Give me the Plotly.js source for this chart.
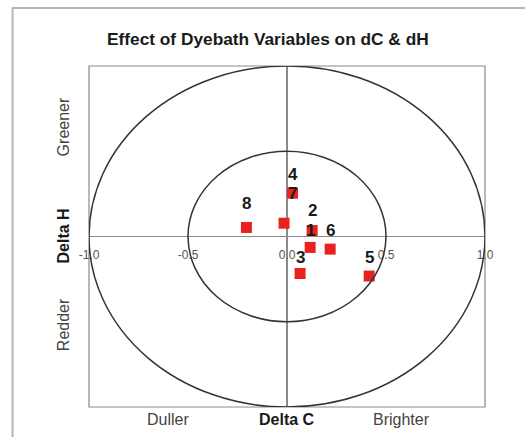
<!DOCTYPE html>
<html>
<head>
<meta charset="utf-8">
<script src="https://cdn.plot.ly/plotly-3.0.1.min.js"></script>
<style>
  html, body { margin: 0; padding: 0; background: #fff; }
  #chart { width: 525px; height: 437px; }
</style>
</head>
<body>
<div id="chart"></div>
<script>
// Data
const labels = ["1", "2", "3", "4", "5", "6", "7", "8"];
const deltaC = [0.117, 0.127, 0.066, 0.028, 0.415, 0.218, -0.015, -0.205];
const deltaH = [-0.064, 0.035, -0.217, 0.254, -0.232, -0.074, 0.078, 0.053];
const tickVals = [-1.0, -0.5, 0.0, 0.5, 1.0];
const tickText = ["-1.0", "-0.5", "0.0", "0.5", "1.0"];
const circleRadii = [1.0, 0.5];

// Label pixel offsets (styling only)
const labelShiftX = [0, 0, 0, 0, 0, 0, 8, 0];
const labelShiftY = [17, 20, 16, 19, 19, 19, 30, 24];

const FONT = "Liberation Sans, Arial, sans-serif";

const trace = {
  type: "scatter",
  mode: "markers",
  x: deltaC,
  y: deltaH,
  marker: { symbol: "square", size: 11, color: "#e8231f" },
  hoverinfo: "skip",
  showlegend: false
};

const annotations = labels.map((t, i) => ({
  x: deltaC[i], y: deltaH[i], xref: "x", yref: "y",
  text: "<b>" + t + "</b>", showarrow: false,
  xshift: labelShiftX[i], yshift: labelShiftY[i],
  font: { family: FONT, size: 17, color: "#1a1a1a" }
}));

annotations.push(
  { x: 0.5, y: 1, xref: "paper", yref: "paper", xanchor: "center", yanchor: "middle", yshift: 27, xshift: -19,
    text: "<b>Effect of Dyebath Variables on dC &amp; dH</b>",
    showarrow: false, font: { family: FONT, size: 17.3, color: "#1a1a1a" } },
  { x: 0.2, y: 0, xref: "paper", yref: "paper", xanchor: "center", yanchor: "middle", yshift: -12, text: "Duller",
    showarrow: false, font: { family: FONT, size: 16, color: "#444" } },
  { x: 0.5, y: 0, xref: "paper", yref: "paper", xanchor: "center", yanchor: "middle", yshift: -12, text: "<b>Delta C</b>",
    showarrow: false, font: { family: FONT, size: 16, color: "#1a1a1a" } },
  { x: 0.79, y: 0, xref: "paper", yref: "paper", xanchor: "center", yanchor: "middle", yshift: -12, text: "Brighter",
    showarrow: false, font: { family: FONT, size: 16, color: "#444" } },
  { x: 0, y: 0.5, xref: "paper", yref: "paper", xanchor: "center", yanchor: "middle", xshift: -26, text: "<b>Delta H</b>", textangle: -90,
    showarrow: false, font: { family: FONT, size: 16, color: "#1a1a1a" } },
  { x: 0, y: 0.82, xref: "paper", yref: "paper", xanchor: "center", yanchor: "middle", xshift: -26, text: "Greener", textangle: -90,
    showarrow: false, font: { family: FONT, size: 16, color: "#444" } },
  { x: 0, y: 0.24, xref: "paper", yref: "paper", xanchor: "center", yanchor: "middle", xshift: -26, text: "Redder", textangle: -90,
    showarrow: false, font: { family: FONT, size: 16, color: "#444" } }
);

const shapes = circleRadii.map(r => ({
  type: "circle", xref: "x", yref: "y",
  x0: -r, x1: r, y0: -r, y1: r,
  line: { color: "#333", width: 1.5 }, layer: "above"
}));
shapes.push(
  { type: "rect", xref: "paper", yref: "paper", x0: 0, x1: 1, y0: 0, y1: 1,
    line: { color: "#8a8a8a", width: 1.2 }, layer: "below" },
  { type: "rect", xref: "paper", yref: "paper", x0: -0.193, x1: 1.4, y0: -0.3, y1: 1.170,
    line: { color: "#b5b5b5", width: 2 }, layer: "below" }
);

const layout = {
  width: 525, height: 437,
  margin: { l: 89, r: 40, t: 66, b: 30 },
  paper_bgcolor: "#fff", plot_bgcolor: "#fff",
  xaxis: {
    range: [-1, 1], anchor: "free", position: 0.5,
    tickvals: tickVals, ticktext: tickText, ticks: "",
    ticklabelstandoff: 9,
    tickfont: { family: FONT, size: 12, color: "#555" },
    showgrid: false, zeroline: true, zerolinecolor: "#8a8a8a", zerolinewidth: 1.2,
    showline: false, fixedrange: true
  },
  yaxis: {
    range: [-1, 1], showticklabels: false, ticks: "",
    showgrid: false, zeroline: true, zerolinecolor: "#8a8a8a", zerolinewidth: 1.2,
    showline: false, fixedrange: true
  },
  shapes: shapes,
  annotations: annotations,
  showlegend: false
};

Plotly.newPlot("chart", [trace], layout, { displayModeBar: false, staticPlot: true });
</script>
</body>
</html>
